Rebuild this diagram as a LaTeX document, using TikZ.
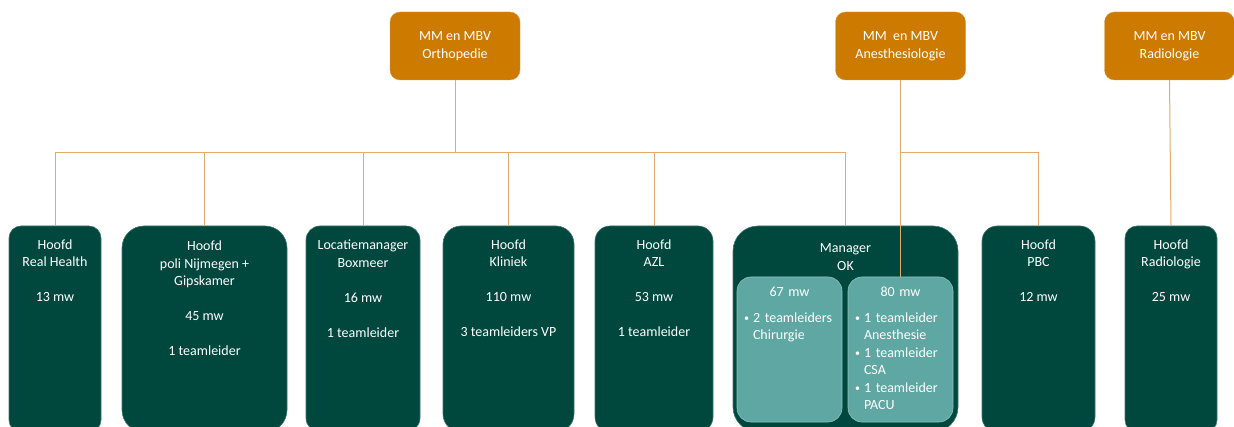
\documentclass[tikz,border=0pt]{standalone}
\usepackage{fontspec}
\setmainfont{Carlito}
\usetikzlibrary{positioning}

\definecolor{mbvorange}{RGB}{204,122,0}
\definecolor{linkorange}{RGB}{228,170,105}
\definecolor{unitgreen}{RGB}{0,71,61}
\definecolor{subteal}{RGB}{95,167,162}

\newcommand{\okbul}{\makebox[9pt][l]{\raisebox{1pt}{\fontsize{10}{10}\selectfont\textbullet}}}

\tikzset{
    head/.style={draw=mbvorange!75!white, fill=mbvorange, rounded corners=10pt,
        minimum width=130pt, minimum height=68pt, text=white, align=center,
        font=\fontsize{14}{18}\selectfont},
    unit/.style={draw=unitgreen!75!white, line width=0.6pt, fill=unitgreen, minimum height=206pt},
    unittxt/.style={anchor=north, inner sep=0pt, text=white, align=center,
        font=\fontsize{14}{17.5}\selectfont},
    sub/.style={draw=subteal!70!white, line width=0.6pt, fill=subteal, rounded corners=14pt,
        minimum width=105pt, minimum height=145pt},
    subtxt/.style={anchor=north, inner sep=0pt, text=white, text width=91pt, align=left,
        font=\fontsize{14}{17.5}\selectfont},
    link/.style={draw=linkorange, line width=1pt}
}

\begin{document}
\begin{tikzpicture}[x=1pt, y=-1pt]
    \useasboundingbox (0,0) rectangle (1234,427);
    \clip (0,0) rectangle (1234,427);

    % top row
    \node[head] (ortho) at (455,46) {MM en MBV\\Orthopedie};
    \node[head] (anest) at (900.5,46) {MM\ \ en MBV\\Anesthesiologie};
    \node[head] (radio) at (1169.5,46) {MM en MBV\\Radiologie};

    % units
    \node[unit, minimum width=92pt, rounded corners=12pt] (realhealth) at (55,329) {};
    \node[unit, minimum width=165pt, rounded corners=22pt] (poli) at (204.5,329) {};
    \node[unit, minimum width=114pt, rounded corners=14pt] (boxmeer) at (363,329) {};
    \node[unit, minimum width=131pt, rounded corners=18pt] (kliniek) at (508.5,329) {};
    \node[unit, minimum width=118pt, rounded corners=15pt] (azl) at (654,329) {};
    \node[unit, minimum width=225pt, rounded corners=25pt] (ok) at (845.5,329) {};
    \node[unit, minimum width=113pt, rounded corners=15pt] (pbc) at (1038.5,329) {};
    \node[unit, minimum width=92pt, rounded corners=12pt] (hradio) at (1171,329) {};

    \node[unittxt] (realhealth-t) at ([yshift=-13.5pt]realhealth.north) {Hoofd\\Real Health\\[17.5pt]13 mw};
    \node[unittxt] (poli-t) at ([yshift=-15pt]poli.north) {Hoofd\\poli Nijmegen +\\Gipskamer\\[17.5pt]45 mw\\[17.5pt]1 teamleider};
    \node[unittxt] (boxmeer-t) at ([yshift=-14pt]boxmeer.north) {Locatiemanager\\Boxmeer\\[17.5pt]16 mw\\[17.5pt]1 teamleider};
    \node[unittxt] (kliniek-t) at ([yshift=-13.5pt]kliniek.north) {Hoofd\\Kliniek\\[17.5pt]110 mw\\[17.5pt]3 teamleiders VP};
    \node[unittxt] (azl-t) at ([yshift=-13.5pt]azl.north) {Hoofd\\AZL\\[17.5pt]53 mw\\[17.5pt]1 teamleider};
    \node[unittxt] (ok-t) at ([yshift=-18pt]ok.north) {Manager\\OK};
    \node[unittxt] (pbc-t) at ([yshift=-13.5pt]pbc.north) {Hoofd\\PBC\\[17.5pt]12 mw};
    \node[unittxt] (hradio-t) at ([yshift=-13.5pt]hradio.north) {Hoofd\\Radiologie\\[17.5pt]25 mw};

    % OK split
    \node[sub] (okchir) at (789.5,349.5) {};
    \node[sub] (okanest) at (900.5,349.5) {};
    \node[subtxt] (okchir-t) at ([yshift=-10.5pt]okchir.north)
        {{\centering 67 mw\par}\vspace{8pt}%
        \okbul 2 teamleiders\\\hspace*{9pt}Chirurgie};
    \node[subtxt] (okanest-t) at ([yshift=-10.5pt]okanest.north)
        {{\centering 80 mw\par}\vspace{8pt}%
        \okbul 1 teamleider\\\hspace*{9pt}Anesthesie\\
        \okbul 1 teamleider\\\hspace*{9pt}CSA\\
        \okbul 1 teamleider\\\hspace*{9pt}PACU};

    % lines
    \coordinate (obus) at (455,153);
    \coordinate (abus) at (anest.south |- obus);
    \draw[link] (ortho.south) -- (obus);
    \foreach \u in {realhealth,poli,boxmeer,kliniek,azl,ok}
        \draw[link] (obus) -| (\u.north);
    \draw[link] (anest.south) -- (okanest.north);
    \draw[link] (abus) -| (pbc.north);
    \draw[link] (radio.south) -- (hradio.north);
\end{tikzpicture}
\end{document}
